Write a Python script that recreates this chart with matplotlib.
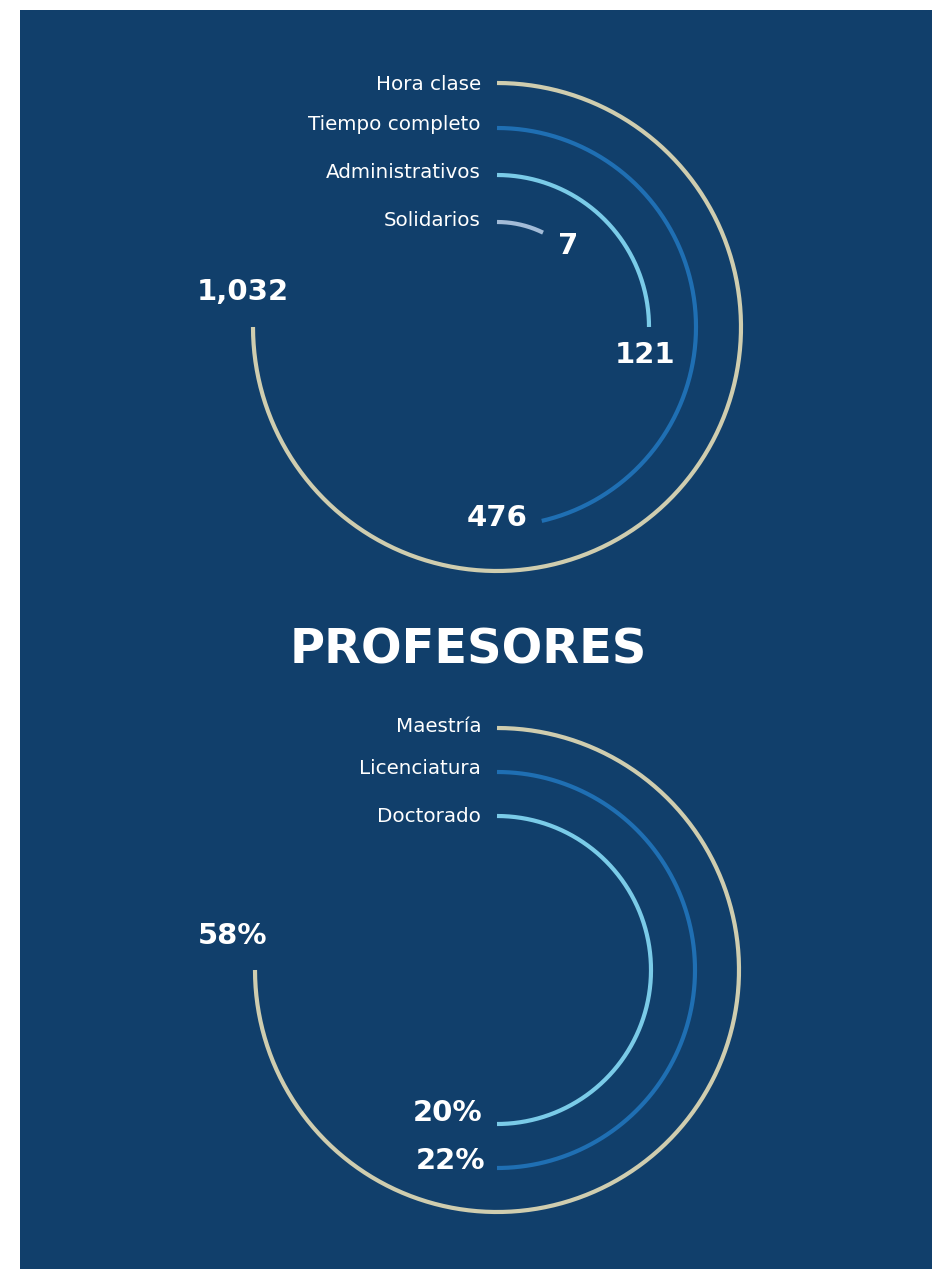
import numpy as np
import matplotlib
matplotlib.use("Agg")
import matplotlib.pyplot as plt
from matplotlib.patches import Rectangle

# ---- data ----
top_categories = ["Hora clase", "Tiempo completo", "Administrativos", "Solidarios"]
top_values = ["1,032", "476", "121", "7"]
top_arc_deg = [270, 167, 90, 26]          # arc span as drawn in the infographic

bottom_title = "PROFESORES"
bottom_categories = ["Maestría", "Licenciatura", "Doctorado"]
bottom_values = ["58%", "22%", "20%"]
bottom_arc_deg = [270, 180, 180]

# ---- style ----
BG = "#113F6B"
top_colors = ["#CFCDAF", "#1F6FB3", "#7ACBE8", "#A3BCD8"]
bottom_colors = ["#CFCDAF", "#1F6FB3", "#7ACBE8"]
LABEL_FONT = ["DejaVu Sans"]
NUM_FONT = ["DejaVu Sans"]

W, H = 932, 1269
fig = plt.figure(figsize=(W / 100, H / 100), dpi=100)
ax = fig.add_axes([0, 0, 1, 1])
ax.set_xlim(0, W)
ax.set_ylim(H, 0)
ax.axis("off")
fig.patch.set_facecolor("white")
ax.add_patch(Rectangle((20, 10), W - 20, H - 10, facecolor=BG, edgecolor="none", zorder=0))


def arc(cx, cy, r, span, color):
    th = np.radians(np.linspace(0, span, 400))
    x = cx + r * np.sin(th)
    y = cy - r * np.cos(th)
    ax.plot(x, y, color=color, lw=3.0, solid_capstyle="butt", zorder=2)


# top chart
cx, cy = 497, 327
radii_top = [244, 199, 152, 105]
label_y_top = [84, 125, 173, 220]
num_pos_top = [(243, 292), (497, 518), (645, 355), (568, 246)]
for cat, val, span, col, r, ly, (nx, ny) in zip(top_categories, top_values, top_arc_deg,
                                                top_colors, radii_top, label_y_top, num_pos_top):
    arc(cx, cy, r, span, col)
    ax.text(481, ly, cat, ha="right", va="center", color="white", fontsize=14.3,
            family=LABEL_FONT, zorder=3)
    ax.text(nx, ny, val, ha="center", va="center", color="white", fontsize=21,
            family=NUM_FONT, fontweight="bold", zorder=3)

# title
ax.text(468, 650, bottom_title, ha="center", va="center", color="white", fontsize=34.5,
        family=["DejaVu Sans"], fontweight="bold", zorder=3)

# bottom chart
cx, cy = 497, 970
radii_bot = [242, 198, 154]
label_y_bot = [727, 768, 816]
num_pos_bot = [(233, 936), (450, 1161), (448, 1113)]
for cat, val, span, col, r, ly, (nx, ny) in zip(bottom_categories, bottom_values, bottom_arc_deg,
                                                bottom_colors, radii_bot, label_y_bot, num_pos_bot):
    arc(cx, cy, r, span, col)
    ax.text(481, ly, cat, ha="right", va="center", color="white", fontsize=14.3,
            family=LABEL_FONT, zorder=3)
    ax.text(nx, ny, val, ha="center", va="center", color="white", fontsize=21,
            family=NUM_FONT, fontweight="bold", zorder=3)

fig.savefig("out.png", dpi=100, facecolor="white")
